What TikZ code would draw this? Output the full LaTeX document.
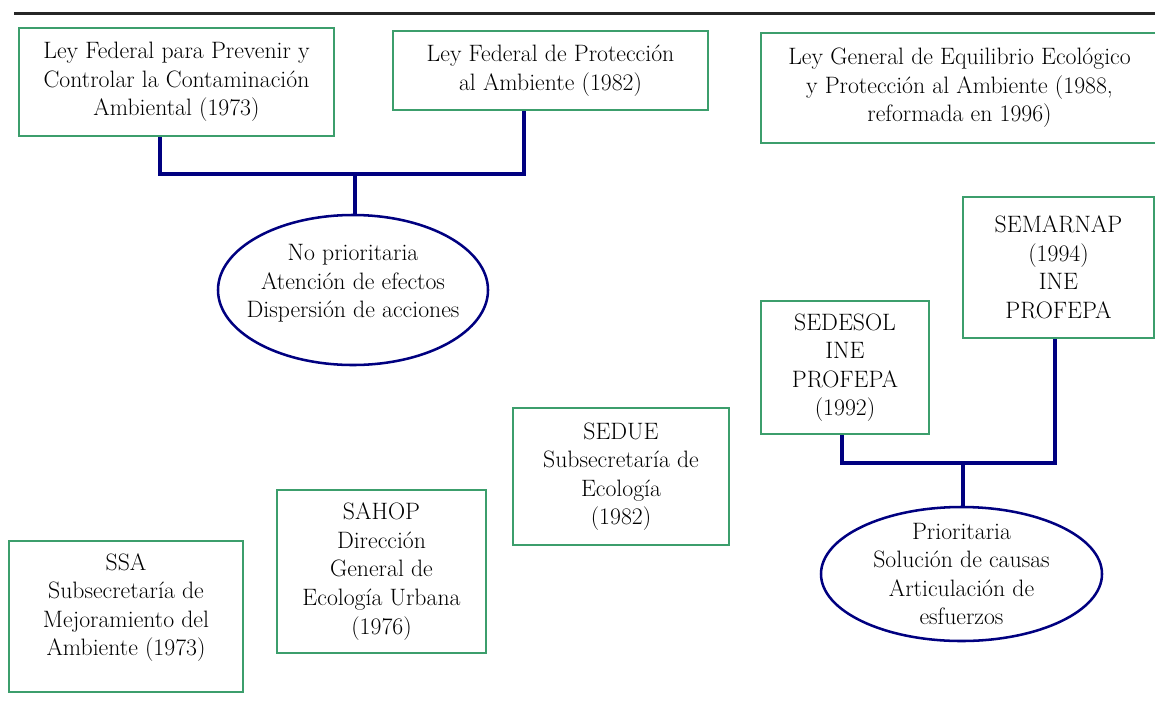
\documentclass[tikz,border=0pt]{standalone}
\usepackage{fontspec}
\usetikzlibrary{shapes.geometric}
\definecolor{boxgreen}{RGB}{60,158,108}
\definecolor{linkblue}{RGB}{0,0,128}
\def\u{0.75pt}
\begin{document}
\begin{tikzpicture}[x=0.75pt,y=-0.75pt,
  txt/.style={align=center,inner sep=0pt,font=\rmfamily\fontsize{17.8}{21.4}\selectfont},
  box/.style={txt,draw=boxgreen,line width=1.5pt},
  oval/.style={ellipse,draw=linkblue,line width=1.9pt,inner sep=0pt},
  link/.style={draw=linkblue,line width=2.5pt}]
\useasboundingbox (0,0) rectangle (1155,700);
\coordinate (r1) at (14,13.5);
\coordinate (r2) at (1160,13.5);
\draw[line width=1.6pt,black!85] (r1) -- (r2);

\node[box,minimum width=315*\u,minimum height=108*\u] (b1) at (176.5,82)
  {Ley Federal para Prevenir y\\Controlar la Contaminación\\Ambiental (1973)};
\node[box,minimum width=315*\u,minimum height=79*\u] (b2) at (550.5,70.5)
  {Ley Federal de Protección\\al Ambiente (1982)};
\node[box,minimum width=397*\u,minimum height=110*\u] (b3) at (959.5,88)
  {Ley General de Equilibrio Ecológico\\y Protección al Ambiente (1988,\\reformada en 1996)};

\node[box,minimum width=191*\u,minimum height=141*\u] (semarnap) at (1058.5,267.5)
  {SEMARNAP\\(1994)\\INE\\PROFEPA};
\node[box,minimum width=168*\u,minimum height=133*\u] (sedesol) at (845,367.5)
  {SEDESOL\\INE\\PROFEPA\\(1992)};
\node[box,minimum width=216*\u,minimum height=137*\u] (sedue) at (621,476.5)
  {SEDUE\\Subsecretaría de\\Ecología\\(1982)};
\node[box,minimum width=209*\u,minimum height=163*\u] (sahop) at (381.5,571.5)
  {SAHOP\\Dirección\\General de\\Ecología Urbana\\(1976)};
\node[box,minimum width=234*\u,minimum height=151*\u] (ssa) at (126,616.5) {};
\node[txt] (ssatext) at (126,607.5)
  {SSA\\Subsecretaría de\\Mejoramiento del\\Ambiente (1973)};

\node[oval,minimum width=270*\u,minimum height=150*\u] (e1) at (353,290) {};
\node[txt] (e1text) at (353,283.5)
  {No prioritaria\\Atención de efectos\\Dispersión de acciones};
\node[oval,minimum width=281*\u,minimum height=134*\u] (e2) at (961.5,574) {};
\node[txt] (e2text) at (961.5,574)
  {Prioritaria\\Solución de causas\\Articulación de\\esfuerzos};

% connectors, top group
\coordinate (k1) at (160,0);
\coordinate (k2) at (524,0);
\coordinate (j1) at (355,174);
\draw[link] (k1 |- b1.south) |- (k2 |- j1) -- (k2 |- b2.south);
\draw[link] (j1) -- (j1 |- e1.north);

% connectors, right group
\coordinate (k3) at (842,0);
\coordinate (k4) at (1055,0);
\coordinate (j2) at (963,463);
\draw[link] (k3 |- sedesol.south) |- (k4 |- j2) -- (k4 |- semarnap.south);
\draw[link] (j2) -- (j2 |- e2.north);
\end{tikzpicture}
\end{document}
